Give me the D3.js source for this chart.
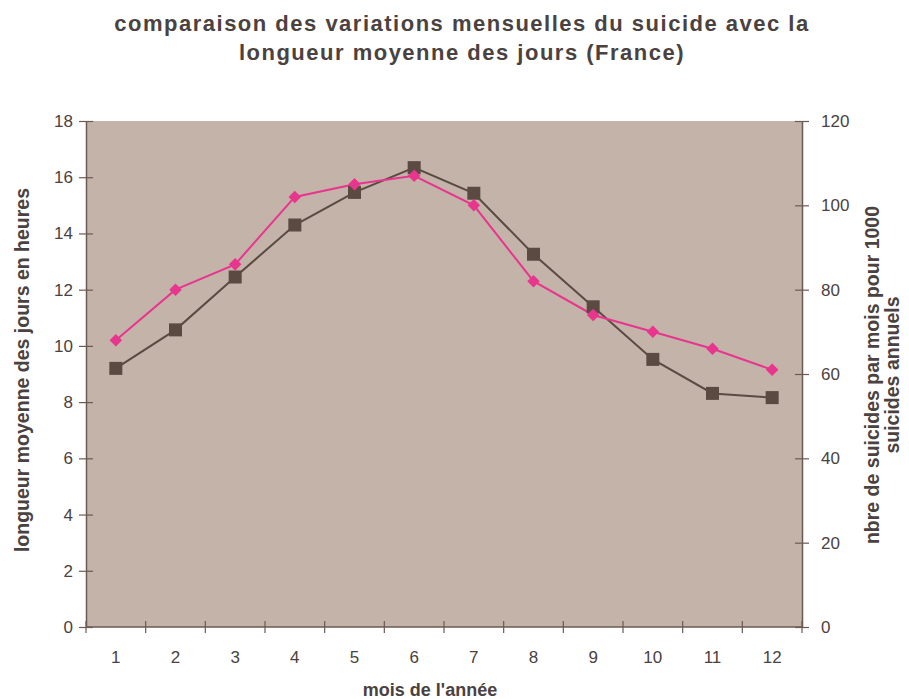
<!DOCTYPE html>
<html>
<head>
<meta charset="utf-8">
<script src="https://cdn.jsdelivr.net/npm/d3@7"></script>
<style>
  body { margin: 0; background: #fff; }
  svg text { font-family: "Liberation Sans Narrow", "Liberation Sans", Arial, sans-serif; }
</style>
</head>
<body>
<div id="chart"></div>
<script>
// ***************** data *****************
const months = [1, 2, 3, 4, 5, 6, 7, 8, 9, 10, 11, 12]
const dayLength = [9.2, 10.57, 12.45, 14.3, 15.46, 16.34, 15.43, 13.26, 11.39, 9.52, 8.31, 8.16]
const suicides = [68, 80, 86, 102, 105, 107, 100, 82, 74, 70, 66, 61]
const leftTicks = [0, 2, 4, 6, 8, 10, 12, 14, 16, 18]
const rightTicks = [0, 20, 40, 60, 80, 100, 120]

const width = 909
const height = 699
const margin = { top: 121, right: 107, bottom: 72, left: 86 }

const axisColor = "#6b5a53"
const textColor = "#4a4240"

const svg = d3.select("#chart")
  .append("svg")
  .attr("width", width)
  .attr("height", height)

// ***************** scales *****************
const xScale = d3.scaleBand()
  .domain(months)
  .range([margin.left, width - margin.right])

const yLeft = d3.scaleLinear()
  .domain([0, 18])
  .range([height - margin.bottom, margin.top])

const yRight = d3.scaleLinear()
  .domain([0, 120])
  .range([height - margin.bottom, margin.top])

// plot background
svg.append("rect")
  .attr("x", margin.left)
  .attr("y", margin.top)
  .attr("width", width - margin.left - margin.right)
  .attr("height", height - margin.top - margin.bottom)
  .attr("fill", "#c4b3a9")

// ***************** axes *****************
const styleAxis = g => {
  g.select(".domain").attr("stroke", axisColor).attr("stroke-width", 1.5)
  g.selectAll(".tick line").attr("stroke", axisColor).attr("stroke-width", 1.2)
  g.selectAll(".tick text")
    .attr("fill", textColor)
    .style("font-family", "'Liberation Sans', Arial, sans-serif")
    .style("font-size", "17px")
}

// x axis: ticks on band boundaries
const xBoundaries = months.map(m => xScale(m)).concat([width - margin.right])
const xAxisG = svg.append("g")
  .attr("transform", "translate(0," + (height - margin.bottom) + ")")
xAxisG.append("line")
  .attr("x1", margin.left).attr("x2", width - margin.right)
  .attr("stroke", axisColor).attr("stroke-width", 1.5)
xAxisG.selectAll(".xtick")
  .data(xBoundaries)
  .enter()
  .append("line")
  .attr("x1", d => d).attr("x2", d => d)
  .attr("y1", -6).attr("y2", 6)
  .attr("stroke", axisColor).attr("stroke-width", 1.2)
xAxisG.selectAll(".xlabel")
  .data(months)
  .enter()
  .append("text")
  .attr("x", d => xScale(d) + xScale.bandwidth() / 2)
  .attr("y", 36)
  .attr("text-anchor", "middle")
  .attr("fill", textColor)
  .style("font-family", "'Liberation Sans', Arial, sans-serif")
  .style("font-size", "17px")
  .text(d => d)

svg.append("g")
  .attr("transform", "translate(" + margin.left + ",0)")
  .call(d3.axisLeft(yLeft).tickValues(leftTicks).tickSizeInner(7).tickSizeOuter(0).tickPadding(6))
  .call(styleAxis)
  .call(g => g.selectAll(".tick line").attr("x2", -7).attr("x1", 7))

svg.append("g")
  .attr("transform", "translate(" + (width - margin.right) + ",0)")
  .call(d3.axisRight(yRight).tickValues(rightTicks).tickSizeInner(7).tickSizeOuter(0).tickPadding(12))
  .call(styleAxis)
  .call(g => g.selectAll(".tick line").attr("x1", -7).attr("x2", 7))

// ***************** lines *****************
const cx = d => xScale(d) + xScale.bandwidth() / 2

const dayLine = d3.line()
  .x((d, i) => cx(months[i]))
  .y(d => yLeft(d))

const suicideLine = d3.line()
  .x((d, i) => cx(months[i]))
  .y(d => yRight(d))

svg.append("path")
  .datum(dayLength)
  .attr("d", dayLine)
  .attr("fill", "none")
  .attr("stroke", "#5a4a42")
  .attr("stroke-width", 2)

svg.append("path")
  .datum(suicides)
  .attr("d", suicideLine)
  .attr("fill", "none")
  .attr("stroke", "#e8358e")
  .attr("stroke-width", 2)

// squares
svg.selectAll(".square")
  .data(dayLength)
  .enter()
  .append("rect")
  .attr("class", "square")
  .attr("x", (d, i) => cx(months[i]) - 6.5)
  .attr("y", d => yLeft(d) - 6.5)
  .attr("width", 13)
  .attr("height", 13)
  .attr("fill", "#5a4a41")

// diamonds
svg.selectAll(".diamond")
  .data(suicides)
  .enter()
  .append("path")
  .attr("class", "diamond")
  .attr("d", d3.symbol().type(d3.symbolDiamond2).size(100))
  .attr("transform", (d, i) => "translate(" + cx(months[i]) + "," + yRight(d) + ")")
  .attr("fill", "#e8358e")

// ***************** titles *****************
const title = svg.append("text")
  .attr("text-anchor", "middle")
  .attr("fill", textColor)
  .style("font-family", "'Liberation Sans', Arial, sans-serif")
  .style("font-weight", "bold")
  .style("font-size", "22px")
  .style("letter-spacing", "1.5px")
title.append("tspan").attr("x", 462).attr("y", 31)
  .text("comparaison des variations mensuelles du suicide avec la")
title.append("tspan").attr("x", 462).attr("y", 60)
  .text("longueur moyenne des jours (France)")

svg.append("text")
  .attr("transform", "translate(29,370) rotate(-90)")
  .attr("text-anchor", "middle")
  .attr("fill", textColor)
  .style("font-weight", "bold")
  .style("font-size", "19.5px")
  .text("longueur moyenne des jours en heures")

const rightLabel = svg.append("text")
  .attr("transform", "translate(879,375) rotate(-90)")
  .attr("text-anchor", "middle")
  .attr("fill", textColor)
  .style("font-weight", "bold")
  .style("font-size", "19.5px")
rightLabel.append("tspan").attr("x", 0).attr("y", 0).text("nbre de suicides par mois pour 1000")
rightLabel.append("tspan").attr("x", 0).attr("y", 20).text("suicides annuels")

svg.append("text")
  .attr("x", 430)
  .attr("y", 696)
  .attr("text-anchor", "middle")
  .attr("fill", textColor)
  .style("font-weight", "bold")
  .style("font-size", "18px")
  .text("mois de l'année")
</script>
</body>
</html>
